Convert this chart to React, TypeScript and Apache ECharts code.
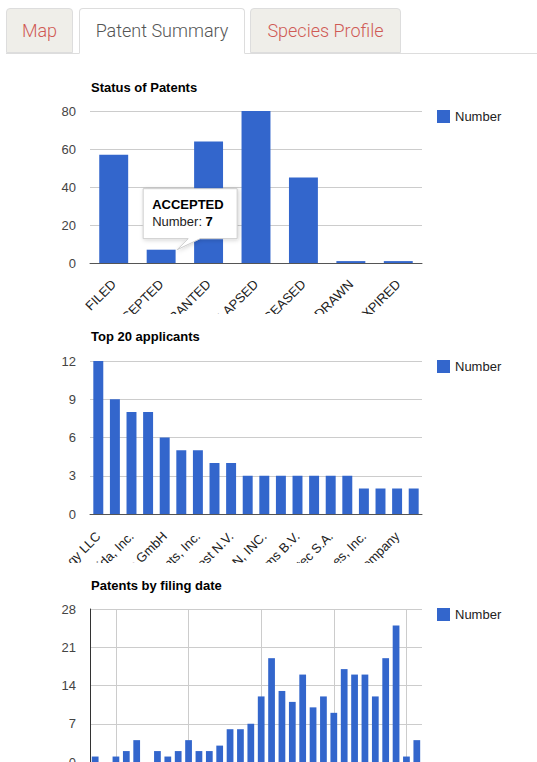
import React, { useEffect, useRef } from "react";
import * as echarts from "echarts";

const FONT = 'Arial, "Liberation Sans", sans-serif';
const BLUE = "#3366cc";

// ---- Data ----
const tabLabels = ["Map", "Patent Summary", "Species Profile"];

const statusCategories = ["FILED", "ACCEPTED", "GRANTED", "LAPSED", "CEASED", "WITHDRAWN", "EXPIRED"];
const statusValues = [57, 7, 64, 80, 45, 1, 1];
const statusHighlight = { category: "ACCEPTED", value: 7 };

const applicantNames = [
  "Monsanto Technology LLC",
  "Pioneer Hi-Bred International",
  "Agrivida, Inc.",
  "Syngenta Participations AG",
  "BASF Plant Science GmbH",
  "Ceres, Inc.",
  "Performance Plants, Inc.",
  "Evogene Ltd.",
  "Agro Harvest N.V.",
  "Bayer CropScience AG",
  "DEKALB GENETICS CORPORATION, INC.",
  "Keygene N.V.",
  "Nunhems B.V.",
  "Dow AgroSciences LLC",
  "Biogemma Agrotec S.A.",
  "Rijk Zwaan Zaadteelt B.V.",
  "Arcadia Biosciences, Inc.",
  "Mendel Biotechnology, Inc.",
  "E. I. du Pont de Nemours and Company",
  "Cibus US LLC",
];
const applicantValues = [12, 9, 8, 8, 6, 5, 5, 4, 4, 3, 3, 3, 3, 3, 3, 3, 2, 2, 2, 2];

const filingYears = [
  "1986", "1987", "1988", "1989", "1990", "1991", "1992", "1993",
  "1994", "1995", "1996", "1997", "1998", "1999", "2000", "2001",
  "2002", "2003", "2004", "2005", "2006", "2007", "2008", "2009",
  "2010", "2011", "2012", "2013", "2014", "2015", "2016", "2017",
];
const filingValues = [
  1, 0, 1, 2, 4, 0, 2, 1,
  2, 4, 2, 2, 3, 6, 6, 7,
  12, 19, 13, 11, 16, 10, 12, 9,
  17, 16, 16, 12, 19, 25, 1, 4,
];
const filingGridYears = ["1988", "1995", "2002", "2009", "2016"];

const seriesName = "Number";

// ---- Option builder ----
function barOption(cfg: any) {
  return {
    animation: false,
    textStyle: { fontFamily: FONT },
    title: {
      text: cfg.title,
      left: 91,
      top: cfg.titleTop,
      padding: 0,
      textStyle: { fontSize: 13, fontWeight: "bold", color: "#000", fontFamily: FONT },
    },
    legend: {
      data: [seriesName],
      left: 437,
      top: cfg.gridTop - 1,
      padding: 0,
      itemWidth: 13,
      itemHeight: 13,
      icon: "rect",
      selectedMode: false,
      textStyle: { fontSize: 13, color: "#222", fontFamily: FONT },
    },
    grid: {
      left: 90,
      top: cfg.gridTop,
      width: 332,
      height: cfg.gridHeight,
      containLabel: false,
      outerBoundsMode: "none",
    },
    xAxis: {
      type: "category",
      data: cfg.categories,
      axisTick: { show: false },
      axisLine: { show: true, lineStyle: { color: "#555", width: 1 } },
      splitLine: { show: false },
      axisLabel: cfg.xLabel,
    },
    yAxis: {
      type: "value",
      min: 0,
      max: cfg.yMax,
      interval: cfg.yInterval,
      axisLine: { show: !!cfg.yAxisLine, lineStyle: { color: "#333", width: 1 } },
      axisTick: { show: false },
      splitLine: { show: true, lineStyle: { color: "#cccccc", width: 1 } },
      axisLabel: { margin: 14, fontSize: 13, color: "#444", fontFamily: FONT },
    },
    series: [
      {
        type: "bar",
        name: seriesName,
        data: cfg.values,
        barCategoryGap: cfg.gap,
        itemStyle: { color: BLUE },
        emphasis: { disabled: true },
        markLine: cfg.markLine,
      },
    ],
  };
}

function ChartBox({ top, height, build }: { top: number; height: number; build: (c: any) => void }) {
  const ref = useRef<HTMLDivElement>(null);
  useEffect(() => {
    const chart = echarts.init(ref.current as HTMLDivElement, null, { renderer: "svg" });
    build(chart);
    return () => chart.dispose();
  }, []);
  return <div ref={ref} style={{ position: "absolute", left: 0, top, width: 537, height }} />;
}

function buildStatus(chart: any) {
  chart.setOption(
    barOption({
      title: "Status of Patents",
      titleTop: 11,
      gridTop: 41,
      gridHeight: 152,
      categories: statusCategories,
      values: statusValues,
      yMax: 80,
      yInterval: 20,
      gap: "39%",
      xLabel: { interval: 0, rotate: 45, margin: 19, fontSize: 13, color: "#222", fontFamily: FONT },
    })
  );
  const pt = chart.convertToPixel({ seriesIndex: 0 }, [statusHighlight.category, statusHighlight.value]);
  const tipX = pt[0] + 16;
  const tipY = pt[1];
  const L = tipX - 34;
  const B = tipY - 11;
  const T = B - 50;
  const R = L + 94;
  chart.setOption({
    graphic: [
      {
        type: "polygon",
        silent: true,
        z: 100,
        shape: {
          points: [
            [L, T], [R, T], [R, B], [L + 57, B], [tipX, tipY], [L + 45, B], [L, B],
          ],
        },
        style: {
          fill: "#fff",
          stroke: "#cccccc",
          lineWidth: 1,
          shadowBlur: 4,
          shadowOffsetX: 1,
          shadowOffsetY: 1,
          shadowColor: "rgba(0,0,0,0.18)",
        },
      },
      {
        type: "text",
        silent: true,
        z: 101,
        x: L + 9,
        y: T + 16,
        style: {
          text: statusHighlight.category,
          fontSize: 13,
          fontWeight: "bold",
          fontFamily: FONT,
          fill: "#000",
          verticalAlign: "middle",
        },
      },
      {
        type: "text",
        silent: true,
        z: 101,
        x: L + 9,
        y: T + 33,
        style: {
          text: seriesName + ": {b|" + statusHighlight.value + "}",
          fontSize: 13,
          fontFamily: FONT,
          fill: "#222",
          verticalAlign: "middle",
          rich: { b: { fontSize: 13, fontWeight: "bold", fontFamily: FONT, fill: "#000" } },
        },
      },
    ],
  });
}

function buildApplicants(chart: any) {
  chart.setOption(
    barOption({
      title: "Top 20 applicants",
      titleTop: 12,
      gridTop: 43,
      gridHeight: 153,
      categories: applicantNames,
      values: applicantValues,
      yMax: 12,
      yInterval: 3,
      gap: "40%",
      xLabel: { interval: 1, rotate: 45, margin: 20, fontSize: 13, color: "#222", fontFamily: FONT },
    })
  );
}

function buildFiling(chart: any) {
  chart.setOption(
    barOption({
      title: "Patents by filing date",
      titleTop: 14,
      gridTop: 44,
      gridHeight: 153,
      categories: filingYears,
      values: filingValues,
      yMax: 28,
      yInterval: 7,
      gap: "35%",
      yAxisLine: true,
      xLabel: { show: false },
      markLine: {
        silent: true,
        symbol: "none",
        z: 1,
        label: { show: false },
        emphasis: { disabled: true },
        lineStyle: { color: "#cccccc", width: 1, type: "solid" },
        data: filingGridYears.map((y) => ({ xAxis: y })),
      },
    })
  );
}

function Tabs() {
  const base: React.CSSProperties = {
    position: "absolute",
    top: 8,
    height: 45,
    boxSizing: "border-box",
    border: "1px solid #dddddd",
    borderRadius: "4px 4px 0 0",
    fontFamily: 'Roboto, "Open Sans", sans-serif',
    fontWeight: 300,
    fontSize: 18,
    lineHeight: "43px",
    textAlign: "center",
  };
  const specs = [
    { left: 6, width: 67, active: false },
    { left: 79, width: 166, active: true },
    { left: 250, width: 151, active: false },
  ];
  return (
    <>
      <div style={{ position: "absolute", left: 6, top: 53, width: 531, height: 1, background: "#dddddd" }} />
      {tabLabels.map((t, i) => {
        const s = specs[i];
        return (
          <div
            key={t}
            style={{
              ...base,
              left: s.left,
              width: s.width,
              height: s.active ? 46 : 45,
              background: s.active ? "#ffffff" : "#efeee9",
              borderBottom: s.active ? "1px solid #ffffff" : "1px solid #dddddd",
              color: s.active ? "#555555" : "#cf5a55",
            }}
          >
            {t}
          </div>
        );
      })}
    </>
  );
}

export default function App() {
  return (
    <div
      style={{
        position: "absolute",
        left: 0,
        top: 0,
        width: 537,
        height: 762,
        overflow: "hidden",
        background: "#ffffff",
      }}
    >
      <Tabs />
      <ChartBox top={70} height={244} build={buildStatus} />
      <ChartBox top={318} height={245} build={buildApplicants} />
      <ChartBox top={565} height={240} build={buildFiling} />
    </div>
  );
}
